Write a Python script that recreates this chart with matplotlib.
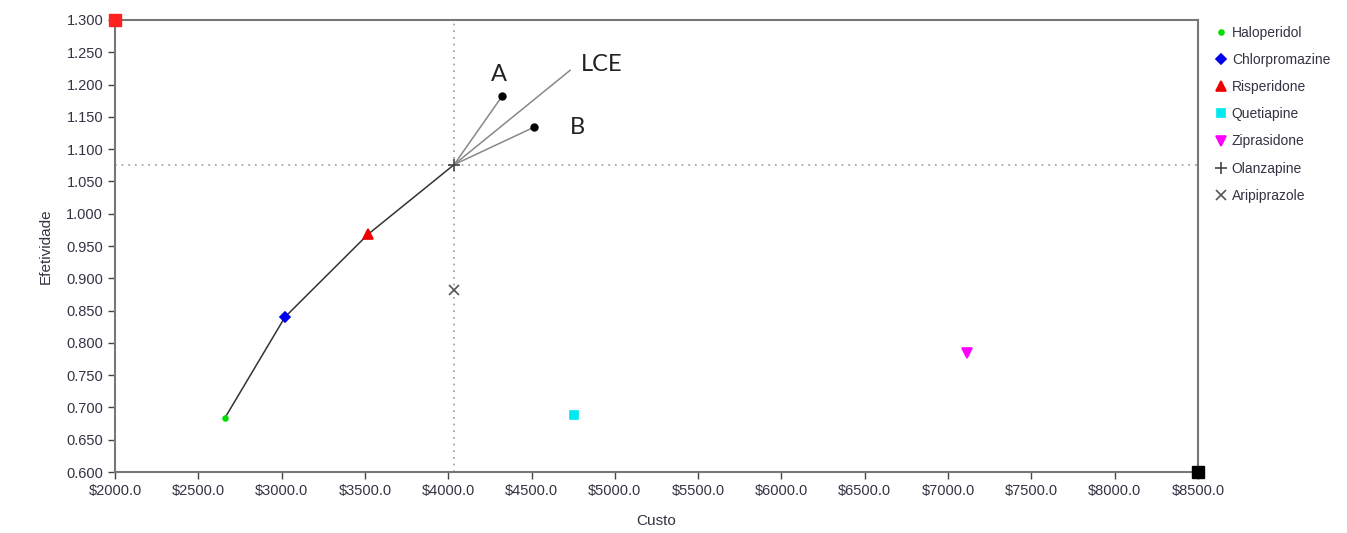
import numpy as np
import matplotlib
matplotlib.use("Agg")
import matplotlib.pyplot as plt

plt.rcParams['font.family'] = ['Liberation Sans', 'DejaVu Sans']

# dados (custo, efetividade)
farmacos = ["Haloperidol", "Chlorpromazine", "Risperidone", "Quetiapine",
            "Ziprasidone", "Olanzapine", "Aripiprazole"]
custo = [2660, 3020, 3518, 4755, 7114, 4035, 4035]
efetividade = [0.684, 0.840, 0.968, 0.688, 0.784, 1.076, 0.882]
marcadores = ["o", "D", "^", "s", "v", "+", "x"]
cores = ["#00dd00", "#0000ee", "#ee0000", "#00e8f0", "#ff00ff", "#444444", "#555555"]
tamanhos = [3.5, 5, 6.5, 6, 7, 8, 6.5]

# fronteira de eficiencia
fronteira_x = [2660, 3020, 3518, 4035]
fronteira_y = [0.684, 0.840, 0.968, 1.076]

# pontos A e B e linha LCE
pA = (4323, 1.182)
pB = (4515, 1.134)
lce = (4731, 1.222)

xticks = np.arange(2000, 8501, 500)
yticks = np.arange(0.600, 1.3001, 0.050)

fig = plt.figure(figsize=(13.47, 5.33), dpi=100)
ax = fig.add_axes([0.0854, 0.1144, 0.8040, 0.8481])

# linhas pontilhadas de referencia
ax.axvline(4035, color="#999999", linestyle=(0, (1, 3)), linewidth=1.2, zorder=1)
ax.axhline(1.076, color="#999999", linestyle=(0, (1, 3)), linewidth=1.2, zorder=1)

ax.plot(fronteira_x, fronteira_y, color="#333333", linewidth=1.1, zorder=2)

# linhas ate A, B e LCE
ax.plot([4035, pA[0]], [1.076, pA[1]], color="#888888", linewidth=1.1, zorder=2)
ax.plot([4035, pB[0]], [1.076, pB[1]], color="#888888", linewidth=1.1, zorder=2)
ax.plot([4035, lce[0]], [1.076, lce[1]], color="#888888", linewidth=1.1, zorder=2)
ax.plot([pA[0], pB[0]], [pA[1], pB[1]], "o", color="black", markersize=5, zorder=3)

for i in range(len(farmacos)):
    ax.plot(custo[i], efetividade[i], linestyle="none", marker=marcadores[i],
            color=cores[i], markersize=tamanhos[i], markeredgewidth=1.2,
            label=farmacos[i], zorder=4)

# marcadores nos cantos
ax.plot(2000, 1.300, "s", color="#ff2020", markersize=8, clip_on=False, zorder=5)
ax.plot(8500, 0.600, "s", color="black", markersize=8, clip_on=False, zorder=5)

fonte_letras = ["Lato", "Liberation Sans", "DejaVu Sans"]
ax.text(pA[0] - 20, 1.2155, "A", fontsize=17, color="#222222", ha="center", va="center",
        family=fonte_letras)
ax.text(4920, 1.2305, "LCE", fontsize=17, color="#222222", ha="center", va="center",
        family=fonte_letras)
ax.text(4775, 1.133, "B", fontsize=17, color="#222222", ha="center", va="center",
        family=fonte_letras)

ax.set_xlim(2000, 8500)
ax.set_ylim(0.600, 1.300)
ax.set_xticks(xticks)
ax.set_xticklabels(["${:.1f}".format(v) for v in xticks])
ax.set_yticks(yticks)
ax.set_yticklabels(["{:.3f}".format(v) for v in yticks])
ax.tick_params(axis="both", labelsize=10.5, colors="#444444", length=5, width=1,
               labelcolor="#333344")

for s in ax.spines.values():
    s.set_color("#777777")
    s.set_linewidth(1.5)

ax.set_xlabel("Custo", fontsize=11, color="#333344", labelpad=12)
ax.set_ylabel("Efetividade", fontsize=11, color="#333344", labelpad=10)

ax.legend(loc="upper left", bbox_to_anchor=(1.003, 1.015), frameon=False,
          fontsize=10, handletextpad=0.3, labelspacing=0.95, handlelength=1.0,
          labelcolor="#333344")

fig.savefig("out.png", dpi=100)
